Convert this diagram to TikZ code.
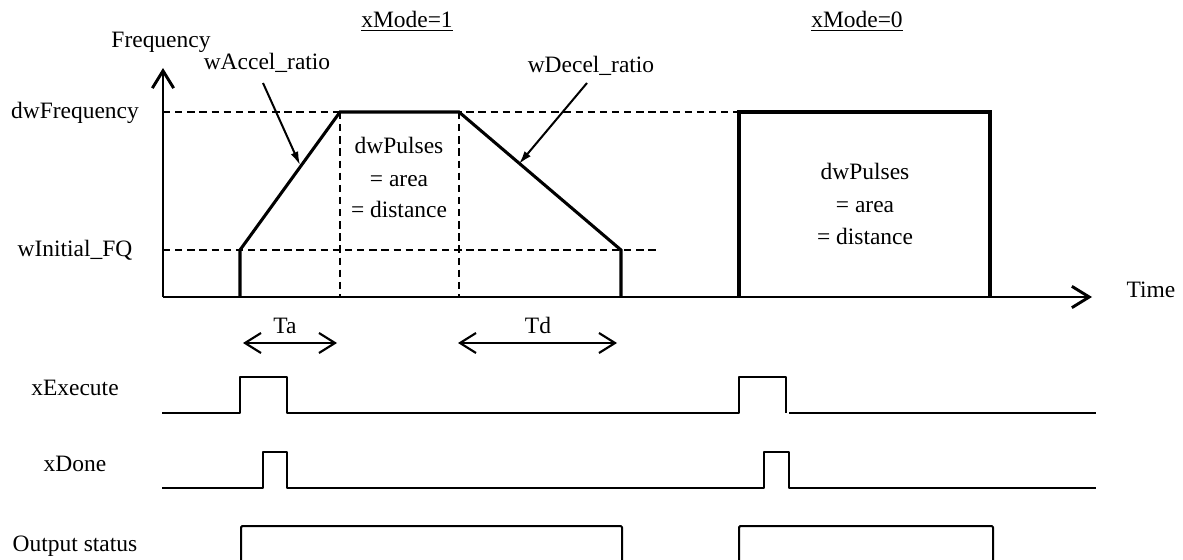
\documentclass[tikz,border=0pt]{standalone}
\usepackage{fontspec}
\setmainfont{Liberation Serif}
\usetikzlibrary{arrows.meta}
\begin{document}
\begin{tikzpicture}[x=0.75pt,y=-0.75pt,
  lbl/.style={inner sep=0pt, anchor=base, font=\fontsize{17.6}{21}\selectfont},
  guide/.style={line width=1.1pt, dash pattern=on 5.5pt off 3.6pt},
  wave/.style={line width=2.3pt, line join=miter},
  axisline/.style={line width=2.2pt, -{Straight Barb[length=13pt,width=16pt]}},
  span/.style={line width=1.6pt, {Straight Barb[length=12pt,width=15pt]}-{Straight Barb[length=12pt,width=15pt]}},
  annot/.style={line width=1.5pt, -{Latex[length=10pt,width=6pt]}},
  signal/.style={line width=1.5pt, line join=round},
]
\useasboundingbox (0,0) rectangle (1183,560);

% coordinates
\coordinate (O) at (163,297);
\coordinate (Ytip) at (163,68);
\coordinate (Xtip) at (1092,297);

% guides
\draw[guide] (163,112) -- (739,112);
\draw[guide] (163,250) -- (657,250);
\draw[guide] (340,112) -- (340,297);
\draw[guide] (459,112) -- (459,297);

% axes
\draw[axisline] (O) -- (Ytip);
\draw[axisline] (O) -- (Xtip);

% frequency profiles
\draw[wave] (240,297) -- (240,250) -- (340,112) -- (459,112) -- (621,250) -- (621,297);
\draw[wave] (739,297) -- (739,112) -- (990,112) -- (990,297);

% labels
\node[lbl] (freq) at (161,48) {Frequency};
\node[lbl] (time) at (1151,297) {Time};
\node[lbl] (dwf) at (75,119) {dwFrequency};
\node[lbl] (wif) at (75,256) {wInitial\_FQ};
\node[lbl] (mode1) at (407,28) {\underline{xMode=1}};
\node[lbl] (mode0) at (857,28) {\underline{xMode=0}};
\node[lbl] (acc) at (267,70) {wAccel\_ratio};
\node[lbl] (dec) at (591,73) {wDecel\_ratio};

\node[lbl] (p1a) at (399,154) {dwPulses};
\node[lbl] (p1b) at (399,186) {= area};
\node[lbl] (p1c) at (399,218) {= distance};
\node[lbl] (p2a) at (865,180) {dwPulses};
\node[lbl] (p2b) at (865,212) {= area};
\node[lbl] (p2c) at (865,244) {= distance};

% annotation arrows
\coordinate (accS) at (263,83);
\coordinate (accE) at (300,165);
\coordinate (decS) at (587,83);
\coordinate (decE) at (519,164);
\draw[annot] (accS) -- (accE);
\draw[annot] (decS) -- (decE);

% Ta / Td
\node[lbl] (ta) at (285,333) {Ta};
\node[lbl] (td) at (538,333) {Td};
\coordinate (taL) at (243,343);
\coordinate (taR) at (337,343);
\coordinate (tdL) at (458,343);
\coordinate (tdR) at (617,343);
\draw[span] (taL) -- (taR);
\draw[span] (tdL) -- (tdR);

% signal labels
\node[lbl] (xexe) at (75,395) {xExecute};
\node[lbl] (xdone) at (75,471) {xDone};
\node[lbl] (outs) at (75,551) {Output status};

% xExecute
\draw[signal] (162,413) -- (240,413) -- (240,377) -- (287,377) -- (287,413) -- (739,413) -- (739,377) -- (786,377) -- (786,413);
\draw[signal] (789,413) -- (1096,413);
% xDone
\draw[signal] (162,488) -- (263,488) -- (263,452) -- (287,452) -- (287,488) -- (764,488) -- (764,452) -- (789,452) -- (789,488) -- (1096,488);
% Output status
\draw[signal, rounded corners=1pt] (241,561) -- (241,526) -- (622,526) -- (622,561);
\draw[signal, rounded corners=1pt] (739,561) -- (739,526) -- (993,526) -- (993,561);
\end{tikzpicture}
\end{document}
